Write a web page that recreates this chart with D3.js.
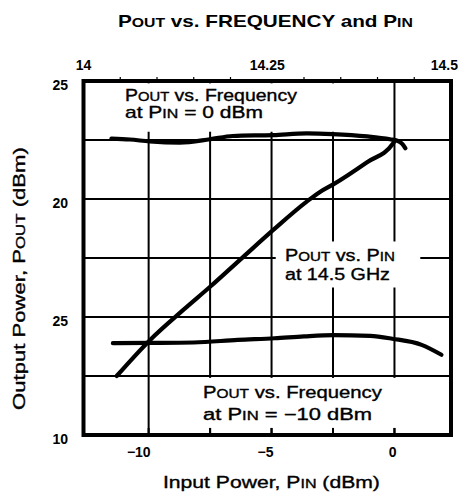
<!DOCTYPE html>
<html><head><meta charset="utf-8">
<script src="https://cdn.jsdelivr.net/npm/d3@7"></script>
<style>body{margin:0;background:#fff}</style>
</head><body>
<svg id="c" width="462" height="497"></svg>
<script>
// ---------- data ----------
const pinTicks = [-10, -5, 0];
const pinTickLabels = ["\u221210", "\u22125", "0"];
const pinGrid = [-10, -7.5, -5, -2.5, 0];
const freqTicks = [14, 14.25, 14.5];
const freqTickLabels = ["14", "14.25", "14.5"];
const freqMinor = [14.05, 14.1, 14.15, 14.2, 14.3, 14.35, 14.4, 14.45];
const poutTicks = [10, 15, 20, 25];
const poutTickLabels = ["10", "25", "20", "25"];
const poutGrid = [12.5, 15, 17.5, 20, 22.5];

// Pout vs Frequency at Pin = 0 dBm
const freqA = [14.038, 14.063, 14.09, 14.131, 14.172, 14.203, 14.258, 14.304, 14.339, 14.386, 14.417, 14.427, 14.434, 14.438];
const poutA = [22.56, 22.52, 22.44, 22.39, 22.53, 22.67, 22.71, 22.78, 22.75, 22.65, 22.53, 22.47, 22.33, 22.15];
// Pout vs Pin at 14.5 GHz
const pinB = [-11.30, -9.94, -8.59, -7.50, -6.15, -4.93, -3.57, -3.03, -2.49, -1.13, -0.05, 0.02];
const poutB = [12.50, 14.03, 15.30, 16.28, 17.55, 18.69, 19.89, 20.30, 20.62, 21.55, 22.36, 22.48];
// Pout vs Frequency at Pin = -10 dBm
const freqC = [14.040, 14.09, 14.15, 14.21, 14.26, 14.30, 14.34, 14.39, 14.42, 14.46, 14.487];
const poutC = [13.89, 13.90, 13.92, 14.03, 14.10, 14.18, 14.23, 14.20, 14.08, 13.82, 13.40];

// ---------- layout ----------
const svg = d3.select("#c");
const L = 83.5, R = 451, T = 81, B = 435;
const FONT = "'Liberation Sans', Arial, Helvetica, sans-serif";
const x = d3.scaleLinear().domain([-12.65, 2.3]).range([L, R]);
const f = d3.scaleLinear().domain([14, 14.5]).range([L, R]);
const y = d3.scaleLinear().domain([10, 25]).range([B, T]);

// grid
const grid = svg.append("g").attr("stroke", "#000").attr("stroke-width", 2);
grid.selectAll("line.v").data(pinGrid).join("line").attr("class", "v")
  .attr("x1", d => x(d)).attr("x2", d => x(d)).attr("y1", T).attr("y2", B);
grid.selectAll("line.h").data(poutGrid).join("line").attr("class", "h")
  .attr("y1", d => y(d)).attr("y2", d => y(d)).attr("x1", L).attr("x2", R);

// white boxes behind annotation text
const boxes = [
  [x(-12.5), y(24.9), x(-0.35), y(22.85)],
  [x(-4.83), y(18.2), x(1.05), y(16.25)],
  [x(-7.9), y(12.42), x(0.25), y(10.3)]
];
svg.append("g").selectAll("rect").data(boxes).join("rect")
  .attr("x", d => d[0]).attr("y", d => d[1])
  .attr("width", d => d[2] - d[0]).attr("height", d => d[3] - d[1])
  .attr("fill", "#fff");

// bottom inward ticks
svg.append("g").attr("stroke", "#000").attr("stroke-width", 2)
  .selectAll("line").data(pinGrid).join("line")
  .attr("x1", d => x(d)).attr("x2", d => x(d)).attr("y1", B).attr("y2", B - 7);
// top minor ticks
svg.append("g").attr("stroke", "#000").attr("stroke-width", 1.2)
  .selectAll("line").data(freqMinor).join("line")
  .attr("x1", d => f(d)).attr("x2", d => f(d)).attr("y1", T - 1).attr("y2", T - 4);

// curves
const curveStyle = p => p.attr("fill", "none").attr("stroke", "#000")
  .attr("stroke-width", 4.2).attr("stroke-linecap", "round").attr("stroke-linejoin", "round");
const lineF = d3.line().x(d => f(d[0])).y(d => y(d[1])).curve(d3.curveMonotoneX);
const lineP = d3.line().x(d => x(d[0])).y(d => y(d[1])).curve(d3.curveMonotoneX);
svg.append("path").attr("d", lineF(d3.zip(freqA, poutA))).call(curveStyle);
svg.append("path").attr("d", lineP(d3.zip(pinB, poutB))).call(curveStyle);
svg.append("path").attr("d", lineF(d3.zip(freqC, poutC))).call(curveStyle);

// frame
svg.append("rect").attr("x", L).attr("y", T).attr("width", R - L).attr("height", B - T)
  .attr("fill", "none").attr("stroke", "#000").attr("stroke-width", 4);

// tick labels
const tl = svg.append("g").attr("font-family", FONT).attr("font-size", 14)
  .attr("font-weight", "bold").attr("fill", "#000");
tl.selectAll("text.y").data(poutTicks).join("text").attr("class", "y")
  .attr("x", 68).attr("y", d => y(d) + 8.5).attr("text-anchor", "end")
  .text((d, i) => poutTickLabels[i]);
tl.selectAll("text.b").data(pinTicks).join("text").attr("class", "b")
  .attr("x", d => x(d) + 2).attr("y", 457).attr("text-anchor", "end")
  .text((d, i) => pinTickLabels[i]);
tl.selectAll("text.t").data(freqTicks).join("text").attr("class", "t")
  .attr("x", (d, i) => f(d) + (i === freqTicks.length - 1 ? 7 : 0)).attr("y", 70)
  .attr("text-anchor", (d, i) => i === freqTicks.length - 1 ? "end" : "middle")
  .text((d, i) => freqTickLabels[i]);

// rich text helper (small caps via smaller tspans), stretched to target width
function rich(parts, size, weight, targetW, transformFn) {
  const t = svg.append("text").attr("font-family", FONT).attr("font-size", size)
    .attr("font-weight", weight).attr("fill", "#000").style("white-space", "pre");
  if (weight === "normal") t.attr("stroke", "#000").attr("stroke-width", 0.35);
  parts.forEach(p => t.append("tspan").attr("font-size", p[1] ? size * 0.76 : size).text(p[0]));
  const w = t.node().getComputedTextLength();
  t.attr("transform", transformFn(targetW / w));
  return t;
}
const POUT = [["P"], ["OUT", 1]];
const PIN = [["P"], ["IN", 1]];
const at = (x0, yb) => s => `translate(${x0},${yb}) scale(${s},1)`;

rich([...POUT, [" vs. FREQUENCY and "], ...PIN], 17, "bold", 295, at(118, 27));
rich([...POUT, [" vs. Frequency"]], 16, "normal", 172, at(125, 101));
rich([["at "], ...PIN, [" = 0 dBm"]], 16, "normal", 138, at(125, 118));
rich([...POUT, [" vs. "], ...PIN], 16, "normal", 110, at(285, 261));
rich([["at 14.5 GHz"]], 16, "normal", 105, at(285, 280));
rich([...POUT, [" vs. Frequency"]], 16, "normal", 179, at(203, 398));
rich([["at "], ...PIN, [" = \u221210 dBm"]], 16, "normal", 169, at(203, 420));
rich([["Input Power, "], ...PIN, [" (dBm)"]], 17, "normal", 217, at(163, 488));
rich([["Output Power, "], ...POUT, [" (dBm)"]], 17, "normal", 263,
  s => `translate(25,410) rotate(-90) scale(${s},1)`);
</script>
</body></html>
